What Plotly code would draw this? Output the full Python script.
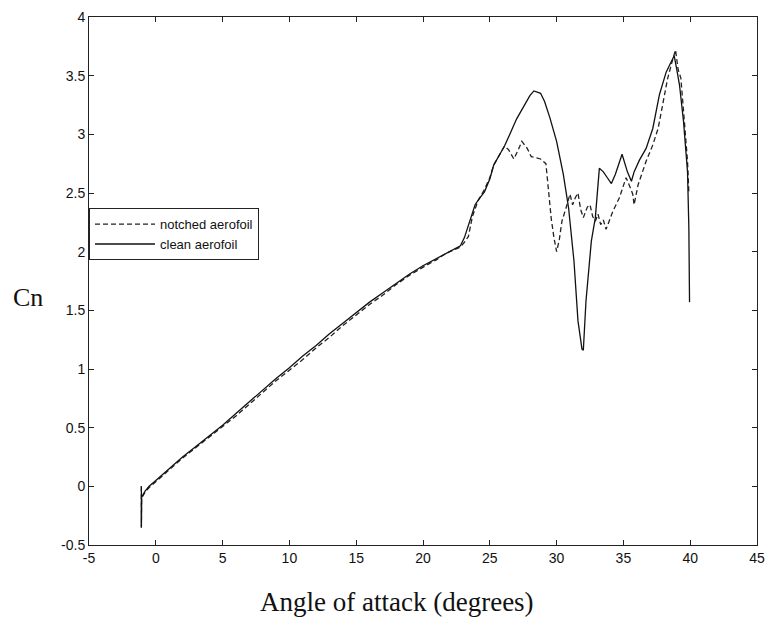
import plotly.graph_objects as go

# ---------------- data ----------------
clean_x = [-1.08, -1.08, -1.06, -0.8, -0.5, 0, 1, 2, 3, 4,
           5, 6, 7, 8, 9, 10, 11, 12, 13, 14,
           15, 16, 17, 18, 19, 20, 20.5, 21, 21.5, 22,
           22.4, 22.8, 23.1, 23.4, 23.7, 23.9, 24.2, 24.6, 25.0, 25.3,
           25.7, 26.1, 26.5, 27.0, 27.5, 28.0, 28.3, 28.6, 28.8, 29.1,
           29.5, 30.0, 30.5, 30.9, 31.3, 31.6, 31.9, 32.0, 32.2, 32.6,
           32.9, 33.2, 33.5, 33.8, 34.1, 34.4, 34.9, 35.3, 35.6, 35.8,
           36.2, 36.7, 37.2, 37.7, 38.2, 38.5, 38.8, 39.0, 39.2, 39.5,
           39.8, 39.9, 39.95]
clean_y = [0.0, -0.35, -0.09, -0.04, 0.0, 0.05, 0.15, 0.25, 0.34, 0.43,
           0.52, 0.62, 0.72, 0.82, 0.92, 1.01, 1.11, 1.2, 1.3, 1.39,
           1.48, 1.57, 1.65, 1.73, 1.81, 1.88, 1.91, 1.94, 1.97, 2.0,
           2.02, 2.05, 2.12, 2.23, 2.32, 2.4, 2.45, 2.51, 2.62, 2.74,
           2.82, 2.9, 3.0, 3.13, 3.23, 3.33, 3.37, 3.36, 3.35, 3.28,
           3.14, 2.94, 2.66, 2.37, 1.92, 1.41, 1.17, 1.16, 1.58, 2.09,
           2.29, 2.71, 2.68, 2.63, 2.58, 2.66, 2.83, 2.68, 2.6, 2.68,
           2.78, 2.88, 3.05, 3.34, 3.53, 3.6, 3.67, 3.55, 3.42, 3.11,
           2.68, 2.2, 1.57]

notched_x = [-1.08, -1.08, -1.06, -0.8, -0.5, 0, 1, 2, 3, 4,
             5, 6, 7, 8, 9, 10, 11, 12, 13, 14,
             15, 16, 17, 18, 19, 20, 20.5, 21, 21.5, 22,
             22.4, 22.8, 23.1, 23.4, 23.7, 24.1, 24.6, 25.0, 25.3, 25.7,
             26.1, 26.4, 26.8, 27.1, 27.4, 27.8, 28.1, 28.5, 28.8, 29.2,
             29.4, 29.6, 29.8, 30.0, 30.2, 30.4, 30.7, 31.0, 31.2, 31.4,
             31.6, 31.8, 32.0, 32.3, 32.5, 32.7, 32.9, 33.1, 33.3, 33.5,
             33.7, 33.9, 34.2, 34.7, 35.2, 35.5, 35.7, 35.8, 36.1, 36.7,
             37.2, 37.6, 37.9, 38.3, 38.6, 38.9, 39.1, 39.3, 39.5, 39.8,
             39.9]
notched_y = [0.0, -0.35, -0.1, -0.05, -0.01, 0.04, 0.14, 0.24, 0.33, 0.42,
             0.51, 0.6, 0.7, 0.8, 0.9, 0.99, 1.08, 1.18, 1.27, 1.37,
             1.46, 1.55, 1.63, 1.72, 1.8, 1.87, 1.9, 1.93, 1.97, 2.0,
             2.02, 2.04, 2.08, 2.13, 2.3, 2.43, 2.53, 2.63, 2.74, 2.82,
             2.9, 2.87, 2.79, 2.86, 2.94, 2.88, 2.81, 2.8, 2.79, 2.75,
             2.49, 2.28, 2.12, 2.0, 2.1, 2.26, 2.37, 2.49, 2.4, 2.46,
             2.5, 2.36, 2.29, 2.38, 2.4, 2.3, 2.26, 2.32, 2.23, 2.27,
             2.19, 2.25, 2.34, 2.46, 2.63, 2.55, 2.49, 2.4, 2.57, 2.77,
             2.91, 3.05, 3.22, 3.47, 3.6, 3.72, 3.55, 3.48, 3.2, 2.77,
             2.5]

x_tickvals = [-5, 0, 5, 10, 15, 20, 25, 30, 35, 40, 45]
x_ticktext = ["-5", "0", "5", "10", "15", "20", "25", "30", "35", "40", "45"]
y_tickvals = [-0.5, 0, 0.5, 1, 1.5, 2, 2.5, 3, 3.5, 4]
y_ticktext = ["-0.5", "0", "0.5", "1", "1.5", "2", "2.5", "3", "3.5", "4"]

series_names = ["notched aerofoil", "clean aerofoil"]

# ---------------- figure ----------------
fig = go.Figure()
fig.add_trace(go.Scatter(x=notched_x, y=notched_y, mode="lines", name=series_names[0],
                         line=dict(color="#222222", width=1.3, dash="5px,3px")))
fig.add_trace(go.Scatter(x=clean_x, y=clean_y, mode="lines", name=series_names[1],
                         line=dict(color="#111111", width=1.3)))

axis_common = dict(showgrid=False, zeroline=False, showline=True, linecolor="#222222",
                   linewidth=1, mirror="ticks", ticks="inside", ticklen=5,
                   tickcolor="#222222", tickwidth=1,
                   tickfont=dict(family="Liberation Sans, Arial", size=14, color="#111111"))

fig.update_xaxes(range=[-5, 45], tickvals=x_tickvals, ticktext=x_ticktext, **axis_common)
fig.update_yaxes(range=[-0.5, 4], tickvals=y_tickvals, ticktext=y_ticktext, **axis_common)

fig.update_layout(
    width=774, height=618,
    margin=dict(l=89, r=9, t=15, b=73),
    paper_bgcolor="white", plot_bgcolor="white",
    showlegend=True,
    legend=dict(x=0, y=0.638, xanchor="left", yanchor="top",
                bgcolor="white", bordercolor="#222222", borderwidth=1,
                font=dict(family="Liberation Sans, Arial", size=13, color="#111111"),
                tracegroupgap=0, itemwidth=60, entrywidth=185),
    annotations=[
        dict(text="Angle of attack (degrees)", xref="paper", yref="paper",
             x=0.4615, y=-0.1075, xanchor="center", yanchor="middle", showarrow=False,
             font=dict(family="Liberation Serif, Times New Roman", size=27, color="#111111")),
        dict(text="Cn", xref="paper", yref="paper",
             x=-0.0917, y=0.468, xanchor="center", yanchor="middle", showarrow=False,
             font=dict(family="Liberation Serif, Times New Roman", size=26, color="#111111")),
    ],
)

fig.write_html("out.html")
